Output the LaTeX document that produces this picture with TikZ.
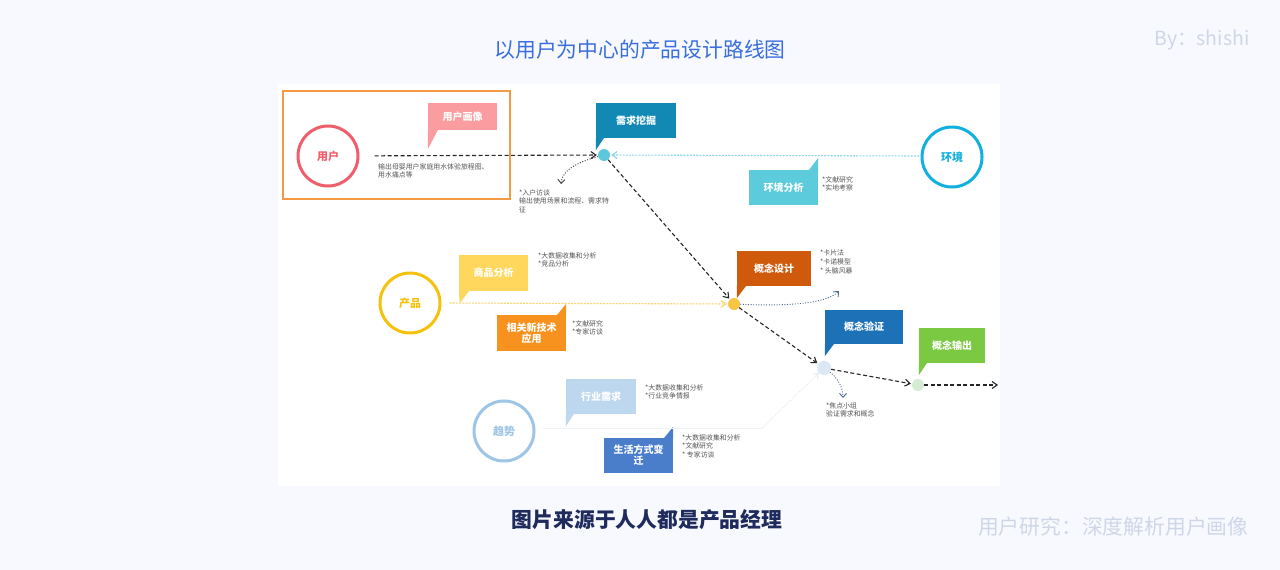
\documentclass[tikz,border=0pt]{standalone}
\usepackage{fontspec}
\setmainfont{Noto Sans CJK SC}
\usetikzlibrary{arrows.meta}
\definecolor{bg}{HTML}{F7F9FE}
\definecolor{ctitle}{HTML}{3A6EDE}
\definecolor{cfoot}{HTML}{1F2B5C}
\definecolor{cfaint}{HTML}{CFD6E8}
\definecolor{corange}{HTML}{F39A45}
\definecolor{cuser}{HTML}{EE5F6B}
\definecolor{cportrait}{HTML}{FB9DA0}
\definecolor{cdemand}{HTML}{1289B5}
\definecolor{cenv}{HTML}{12B0DF}
\definecolor{cenvbox}{HTML}{5CCBDC}
\definecolor{cenvline}{HTML}{8CD6EA}
\definecolor{cdesign}{HTML}{CF5A0C}
\definecolor{cprod}{HTML}{F4C20D}
\definecolor{cgoods}{HTML}{FFD75C}
\definecolor{cprodline}{HTML}{F8D56E}
\definecolor{ctech}{HTML}{F7921E}
\definecolor{cverify}{HTML}{1C71B7}
\definecolor{coutput}{HTML}{7BC943}
\definecolor{ctrend}{HTML}{9EC4E6}
\definecolor{cind}{HTML}{BDD7EE}
\definecolor{clife}{HTML}{4A7ECB}
\definecolor{cp1}{HTML}{5CC8DD}
\definecolor{cp2}{HTML}{F8C542}
\definecolor{cp3}{HTML}{DCE7F5}
\definecolor{cp4}{HTML}{D6EBD3}
\definecolor{cnote}{HTML}{555555}
\definecolor{carrowgrey}{HTML}{4A6A8A}
\definecolor{ctrendline}{HTML}{EEF3F9}
\begin{document}
\begin{tikzpicture}[x=1pt,y=-1pt,
  box/.style={rectangle, inner sep=0pt, minimum width=69pt, minimum height=35pt, text=white, align=center, font=\bfseries\fontsize{10}{12}\selectfont},
  ring/.style={circle, draw, line width=3pt, fill=white, minimum size=60pt, inner sep=0pt, font=\bfseries\fontsize{11}{13}\selectfont},
  pt/.style={circle, inner sep=0pt, minimum size=12pt},
  note/.style={anchor=north west, inner sep=0pt, align=left, text=cnote, font=\fontsize{6.9}{8.6}\selectfont},
  blackdash/.style={line width=1.1pt, dash pattern=on 4pt off 2.5pt, -{Straight Barb[length=5pt,width=7pt]}, black!85},
  curvearrow/.style={line width=0.9pt, dash pattern=on 1pt off 1.6pt, -{Straight Barb[length=4pt,width=7pt]}}
]
\fill[bg] (0,0) rectangle (1280,570);
\useasboundingbox (0,0) rectangle (1280,570);
\fill[white] (278,84) rectangle (1000,486);

% titles
\node[text=ctitle, font=\fontsize{20.8}{24}\selectfont] (title) at (640,50) {以用户为中心的产品设计路线图};
\node[text=cfaint, anchor=east, font=\fontsize{19.5}{22}\selectfont] (by) at (1253,40) {By：shishi};
\node[text=cfoot, font=\bfseries\fontsize{20.8}{24}\selectfont] (src) at (647,520) {图片来源于人人都是产品经理};
\node[text=cfaint, anchor=east, font=\fontsize{20.8}{24}\selectfont] (sub) at (1252,527) {用户研究：深度解析用户画像};

% orange frame
\draw[corange, line width=2pt] (283,91) rectangle (510,199);

% points
\node[pt, fill=cp1] (p1) at (604,155) {};
\node[pt, fill=cp2] (p2) at (734,304) {};
\node[pt, fill=cp3, minimum size=14pt] (p3) at (824,368) {};
\node[pt, fill=cp4] (p4) at (918,385) {};
\coordinate (pend) at (998,385);

% circles
\node[ring, draw=cuser, text=cuser] (user) at (328,156) {用户};
\node[ring, draw=cenv, text=cenv] (env) at (952,157) {环境};
\node[ring, draw=cprod, text=cprod] (prod) at (410,303) {产品};
\node[ring, draw=ctrend, text=ctrend] (trend) at (504,431) {趋势};

% boxes with tails
\node[box, fill=cportrait, minimum height=27pt] (portrait) at (462.5,116.5) {用户画像};
\fill[cportrait] (portrait.south west) -- ++(0,19) -- ++(10,-19) -- cycle;

\node[box, fill=cdemand, minimum width=80pt] (demand) at (636,120.5) {需求挖掘};
\fill[cdemand] (demand.south west) -- ++(0,12) -- ++(8,-12) -- cycle;

\node[box, fill=cenvbox] (envbox) at (783.5,187.5) {环境分析};
\fill[cenvbox] (envbox.north east) -- ++(0,-12) -- ++(-9,12) -- cycle;

\node[box, fill=cdesign, minimum width=74pt] (design) at (774,268.5) {概念设计};
\fill[cdesign] (design.south west) -- ++(0,12) -- ++(9,-12) -- cycle;

\node[box, fill=cgoods, minimum height=36pt] (goods) at (493.5,273) {商品分析};
\fill[cgoods] (goods.south west) -- ++(1,12) -- ++(9,-12) -- cycle;

\node[box, fill=ctech, minimum height=36pt] (tech) at (531.5,333) {相关新技术\\[-1pt]应用};
\fill[ctech] (tech.north east) -- ++(0,-11) -- ++(-9,11) -- cycle;

\node[box, fill=cverify, minimum width=78pt, minimum height=34pt] (verify) at (864,327) {概念验证};
\fill[cverify] (verify.south west) -- ++(0,12) -- ++(9,-12) -- cycle;

\node[box, fill=coutput, minimum width=66pt] (output) at (952,345.5) {概念输出};
\fill[coutput] (output.south west) -- ++(0,12) -- ++(8,-12) -- cycle;

\node[box, fill=cind, minimum width=70pt] (ind) at (601,396.5) {行业需求};
\fill[cind] (ind.south west) -- ++(0,12) -- ++(8,-12) -- cycle;

\node[box, fill=clife] (life) at (638.5,455.5) {生活方式变\\[-1pt]迁};
\fill[clife] (life.north east) -- ++(0,-11) -- ++(-9,11) -- cycle;

% notes
\node[note] (nuser) at (378,163) {输出母婴用户家庭用水体验旅程图、\\用水痛点等};
\node[note] (np1) at (519,189) {*入户访谈\\输出使用场景和流程、需求特\\征};
\node[note] (nenv) at (822,176) {*文献研究\\*实地考察};
\node[note] (ndesign) at (820,250) {*卡片法\\*卡诺模型\\* 头脑风暴};
\node[note] (ngoods) at (538,252) {*大数据收集和分析\\*竞品分析};
\node[note] (ntech) at (572,320) {*文献研究\\*专家访谈};
\node[note] (nverify) at (826,402) {*焦点小组\\验证需求和概念};
\node[note] (nind) at (645,384) {*大数据收集和分析\\*行业竞争情报};
\node[note] (nlife) at (682,434) {*大数据收集和分析\\*文献研究\\* 专家访谈};

% connectors
\coordinate (tbend) at (762,428);
\draw[ctrendline, line width=1pt] (trend.east) ++(6,-3) coordinate (tstart) -- (tbend);
\draw[cp3, line width=0.9pt, dash pattern=on 1pt off 1.6pt, -{Straight Barb[length=4pt,width=6pt]}] (tbend) -- (p3);

\draw[blackdash, shorten <=15pt, shorten >=1pt] (user) -- (p1);
\draw[cenvline, line width=1.1pt, dash pattern=on 2pt off 1.2pt, -{Straight Barb[length=5pt,width=7pt]}, shorten <=1pt, shorten >=1pt] (env) ++(-32,-1) coordinate (estart) -- (p1);
\draw[cprodline, line width=1.1pt, dash pattern=on 2pt off 1.2pt, -{Straight Barb[length=5pt,width=7pt]}, shorten <=8pt, shorten >=1pt] (prod.east) -- (p2);
\draw[blackdash, shorten >=1pt] (p1) -- (p2);
\draw[blackdash, shorten >=1pt] (p2) -- (p3);
\draw[blackdash, shorten >=1pt] (p3) -- (p4);
\draw[blackdash] (p4) -- (pend);

\coordinate (a1) at (561,184);
\coordinate (a2) at (839,291);
\coordinate (a3) at (843,398);
\draw[curvearrow, black!75] (p1) .. controls (578,162) and (562,170) .. (a1);
\draw[curvearrow, carrowgrey] (p2) .. controls (780,306) and (825,305) .. (a2);
\draw[curvearrow, carrowgrey] (p3) .. controls (838,378) and (843,388) .. (a3);
\end{tikzpicture}
\end{document}
